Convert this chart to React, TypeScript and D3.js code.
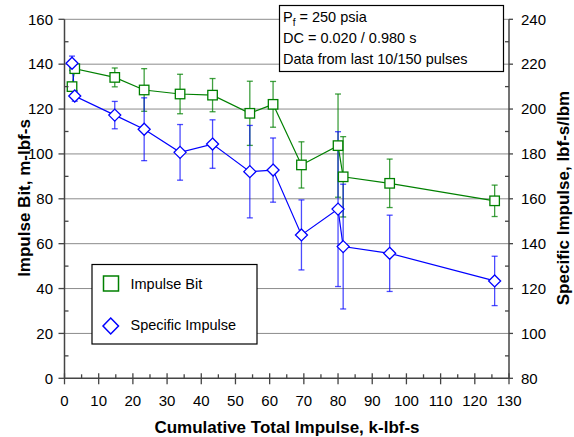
import React from 'react'
import * as d3 from 'd3'

// cumulative total impulse, k-lbf-s
const impulseX = [2.2, 3.0, 14.7, 23.3, 33.8, 43.3, 54.2, 61.0, 69.3, 80.0, 81.5, 95.1, 125.8]
// impulse bit, m-lbf-s (left axis)
const impulseBit = [130, 138, 134.1, 128.5, 126.7, 126.2, 118.1, 122.1, 95.1, 103.7, 89.8, 86.9, 79.1]
const impulseBitErr = [1.5, 1.5, 4.2, 9.5, 8.8, 7.4, 14.3, 10.2, 10.3, 23, 17.9, 10.8, 7]
// specific impulse, lbf-s/lbm (right axis)
const specImpulse = [220.4, 205.8, 197.3, 191, 180.7, 184.4, 172.1, 172.8, 143.9, 155.4, 138.7, 135.7, 123.4]
const specImpulseErr = [3.2, 2.3, 6.1, 14, 12.4, 10.8, 20.6, 14.3, 15.6, 34.5, 27.8, 17, 11]

const xTicks = d3.range(0, 131, 10)
const leftTicks = d3.range(0, 161, 20)
const rightTicks = d3.range(80, 241, 20)
const noteLines = ['= 250 psia', 'DC = 0.020 / 0.980 s', 'Data from last 10/150 pulses']

const W = 574
const H = 437
const font = 'Liberation Sans, Arial, sans-serif'
const green = '#008000'
const blue = '#0000ff'
const axisCol = '#444'

export default function App() {
  const x = d3.scaleLinear().domain([0, 130]).range([64.5, 509])
  const yL = d3.scaleLinear().domain([0, 160]).range([378.3, 19.3])
  const yR = d3.scaleLinear().domain([80, 240]).range([378.3, 19.3])

  const greenLine = d3.line<number>().x((d, i) => x(impulseX[i])).y(d => yL(d))
  const blueLine = d3.line<number>().x((d, i) => x(impulseX[i])).y(d => yR(d))

  const x0 = x(0), x1 = x(130), yb = yL(0)
  const cap = 3

  const sq = 9.5
  const dm = 6

  return (
    <svg width={W} height={H} style={{ position: 'absolute', left: 0, top: 0, background: '#fff' }} fontFamily={font}>
      {/* gridlines */}
      {leftTicks.filter(t => t > 0).map(t => (
        <line key={'g' + t} x1={x0} x2={x1} y1={yL(t)} y2={yL(t)} stroke="#8c8c8c" strokeWidth={1} />
      ))}

      {/* error bars */}
      {impulseBit.map((v, i) => (
        <g key={'ge' + i} stroke={green} strokeOpacity={0.75} strokeWidth={1.3}>
          <line x1={x(impulseX[i])} x2={x(impulseX[i])} y1={yL(v - impulseBitErr[i])} y2={yL(v + impulseBitErr[i])} />
          <line x1={x(impulseX[i]) - cap} x2={x(impulseX[i]) + cap} y1={yL(v - impulseBitErr[i])} y2={yL(v - impulseBitErr[i])} />
          <line x1={x(impulseX[i]) - cap} x2={x(impulseX[i]) + cap} y1={yL(v + impulseBitErr[i])} y2={yL(v + impulseBitErr[i])} />
        </g>
      ))}
      {specImpulse.map((v, i) => (
        <g key={'be' + i} stroke={blue} strokeOpacity={0.7} strokeWidth={1.3}>
          <line x1={x(impulseX[i])} x2={x(impulseX[i])} y1={yR(v - specImpulseErr[i])} y2={yR(v + specImpulseErr[i])} />
          <line x1={x(impulseX[i]) - cap} x2={x(impulseX[i]) + cap} y1={yR(v - specImpulseErr[i])} y2={yR(v - specImpulseErr[i])} />
          <line x1={x(impulseX[i]) - cap} x2={x(impulseX[i]) + cap} y1={yR(v + specImpulseErr[i])} y2={yR(v + specImpulseErr[i])} />
        </g>
      ))}

      {/* series lines */}
      <path d={greenLine(impulseBit) || ''} fill="none" stroke={green} strokeWidth={1.2} />
      <path d={blueLine(specImpulse) || ''} fill="none" stroke={blue} strokeWidth={1.2} />

      {/* markers */}
      {impulseBit.map((v, i) => (
        <rect key={'gs' + i} x={x(impulseX[i]) - sq / 2} y={yL(v) - sq / 2} width={sq} height={sq} fill="#fff" stroke={green} strokeWidth={1.3} />
      ))}
      {specImpulse.map((v, i) => {
        const cx = x(impulseX[i]), cy = yR(v)
        return <path key={'bd' + i} d={`M${cx},${cy - dm}L${cx + dm},${cy}L${cx},${cy + dm}L${cx - dm},${cy}Z`} fill="#fff" stroke={blue} strokeWidth={1.3} />
      })}

      {/* axes */}
      <line x1={x0} x2={x0} y1={yL(160)} y2={yb} stroke={axisCol} strokeWidth={1.5} />
      <line x1={x1} x2={x1} y1={yR(240)} y2={yb} stroke={axisCol} strokeWidth={1.5} />
      <line x1={x0} x2={x1} y1={yb} y2={yb} stroke={axisCol} strokeWidth={1.5} />

      {/* left ticks */}
      {d3.range(0, 161, 10).map(t => (
        t % 20 === 0
          ? <line key={'lt' + t} x1={x0 - 6} x2={x0} y1={yL(t)} y2={yL(t)} stroke={axisCol} strokeWidth={1.3} />
          : <line key={'lt' + t} x1={x0} x2={x0 + 4} y1={yL(t)} y2={yL(t)} stroke={axisCol} strokeWidth={1.3} />
      ))}
      {leftTicks.map(t => (
        <text key={'ll' + t} x={53} y={yL(t)} dy="0.35em" textAnchor="end" fontSize={15} fill="#000">{t}</text>
      ))}

      {/* right ticks */}
      {d3.range(80, 241, 10).map(t => (
        t % 20 === 0
          ? <line key={'rt' + t} x1={x1} x2={x1 + 4} y1={yR(t)} y2={yR(t)} stroke={axisCol} strokeWidth={1.3} />
          : <line key={'rt' + t} x1={x1 - 4} x2={x1} y1={yR(t)} y2={yR(t)} stroke={axisCol} strokeWidth={1.3} />
      ))}
      {rightTicks.map(t => (
        <text key={'rl' + t} x={521} y={yR(t)} dy="0.35em" textAnchor="start" fontSize={15} fill="#000">{t}</text>
      ))}

      {/* bottom ticks */}
      {d3.range(0, 131, 5).map(t => (
        t % 10 === 0
          ? <line key={'bt' + t} x1={x(t)} x2={x(t)} y1={yb - 5} y2={yb + 6} stroke={axisCol} strokeWidth={1.3} />
          : <line key={'bt' + t} x1={x(t)} x2={x(t)} y1={yb - 4} y2={yb} stroke={axisCol} strokeWidth={1.3} />
      ))}
      {xTicks.map(t => (
        <text key={'bl' + t} x={x(t)} y={406} textAnchor="middle" fontSize={15} fill="#000">{t}</text>
      ))}

      {/* axis titles */}
      <text x={287} y={433} textAnchor="middle" fontSize={17} fontWeight="bold">Cumulative Total Impulse, k-lbf-s</text>
      <text transform="translate(30,198) rotate(-90)" textAnchor="middle" fontSize={17} fontWeight="bold">Impulse Bit, m-lbf-s</text>
      <text transform="translate(569,198) rotate(-90)" textAnchor="middle" fontSize={17} fontWeight="bold">Specific Impulse, lbf-s/lbm</text>

      {/* note box */}
      <rect x={279.5} y={5.5} width={224} height={66} fill="#fff" stroke="#000" strokeWidth={1.2} />
      <text x={283} y={22} fontSize={14.5}>
        <tspan>P</tspan><tspan fontSize={10} dy={4}>f</tspan><tspan dy={-4}> {noteLines[0]}</tspan>
      </text>
      <text x={283} y={43} fontSize={14.5}>{noteLines[1]}</text>
      <text x={283} y={64} fontSize={14.5}>{noteLines[2]}</text>

      {/* legend */}
      <rect x={92} y={264.5} width={165} height={79.5} fill="#fff" stroke="#000" strokeWidth={1.2} />
      <rect x={103.5} y={276} width={15} height={15} fill="#fff" stroke={green} strokeWidth={1.5} />
      <path d="M110.7,318L118.5,326L110.7,334L103,326Z" fill="#fff" stroke={blue} strokeWidth={1.5} />
      <text x={130.5} y={283.5} dy="0.35em" fontSize={14.5}>Impulse Bit</text>
      <text x={130.5} y={324.5} dy="0.35em" fontSize={14.5}>Specific Impulse</text>
    </svg>
  )
}
